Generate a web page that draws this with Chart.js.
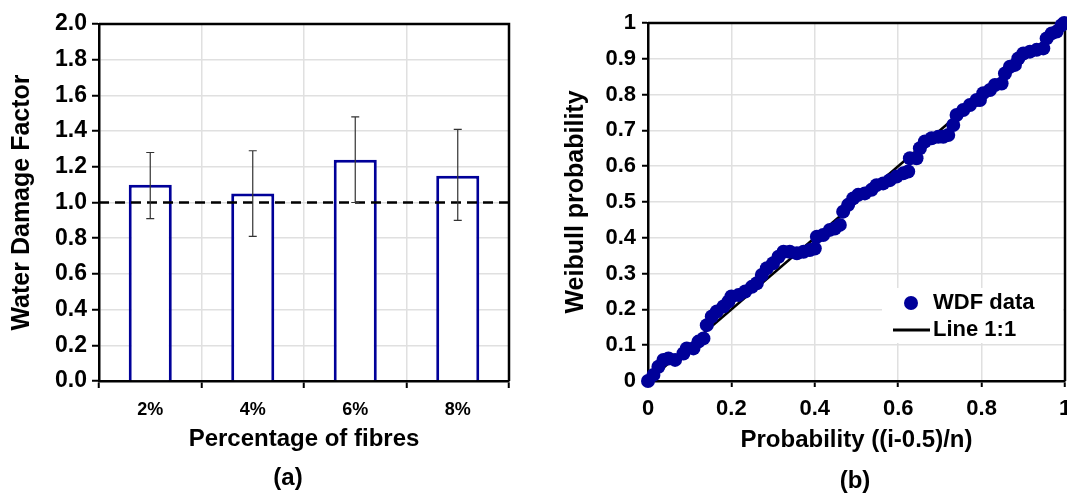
<!DOCTYPE html>
<html>
<head>
<meta charset="utf-8">
<title>Water Damage Factor</title>
<script src="https://cdn.jsdelivr.net/npm/chart.js@4.4.1/dist/chart.umd.min.js"></script>
<style>
  html, body { margin: 0; padding: 0; background: #fff; overflow: hidden; }
  body { width: 1067px; height: 494px; position: relative; }
  canvas { position: absolute; top: 0; }
  #wdf-bars { left: 0; }
  #wdf-weibull { left: 560px; }
  .caption {
    position: absolute;
    font: bold 24px 'Liberation Sans', Arial, sans-serif;
    transform: translate(-50%, -50%);
  }
</style>
</head>
<body>
<canvas id="wdf-bars" width="540" height="494"></canvas>
<canvas id="wdf-weibull" width="530" height="494"></canvas>
<div class="caption" style="left:288px; top:477px">(a)</div>
<div class="caption" style="left:855px; top:480px">(b)</div>

<script>
// (a) mean water damage factor per fibre content, with error bars
const fibreContents = ['2%', '4%', '6%', '8%'];
const wdfMean = [1.10, 1.05, 1.24, 1.15];
const wdfUpper = [1.28, 1.29, 1.48, 1.41];
const wdfLower = [0.91, 0.81, 1.00, 0.90];
const referenceLevel = 1.0;

// (b) Weibull probability against plotting position
const weibullX = [0.000, 0.013, 0.025, 0.037, 0.049, 0.065, 0.085, 0.093, 0.109, 0.121,
  0.133, 0.141, 0.153, 0.165, 0.181, 0.193, 0.200, 0.217, 0.233, 0.249,
  0.261, 0.273, 0.285, 0.300, 0.313, 0.325, 0.340, 0.357, 0.373, 0.388,
  0.400, 0.405, 0.420, 0.436, 0.448, 0.460, 0.468, 0.480, 0.492, 0.504,
  0.520, 0.536, 0.548, 0.564, 0.580, 0.596, 0.612, 0.624, 0.628, 0.644,
  0.652, 0.664, 0.680, 0.696, 0.708, 0.720, 0.732, 0.740, 0.756, 0.772,
  0.788, 0.796, 0.804, 0.820, 0.832, 0.848, 0.856, 0.868, 0.880, 0.888,
  0.900, 0.916, 0.932, 0.948, 0.956, 0.968, 0.980, 0.992, 0.998];
const weibullY = [0.000, 0.017, 0.040, 0.059, 0.063, 0.059, 0.077, 0.091, 0.091, 0.110,
  0.119, 0.156, 0.180, 0.194, 0.208, 0.222, 0.236, 0.240, 0.250, 0.263,
  0.273, 0.296, 0.315, 0.329, 0.347, 0.361, 0.361, 0.357, 0.361, 0.366,
  0.370, 0.403, 0.408, 0.422, 0.426, 0.436, 0.473, 0.492, 0.510, 0.520,
  0.524, 0.534, 0.547, 0.552, 0.561, 0.571, 0.580, 0.585, 0.622, 0.622,
  0.650, 0.669, 0.678, 0.682, 0.682, 0.687, 0.715, 0.743, 0.757, 0.771,
  0.785, 0.785, 0.804, 0.813, 0.827, 0.831, 0.859, 0.878, 0.883, 0.901,
  0.915, 0.920, 0.925, 0.929, 0.957, 0.971, 0.976, 0.994, 1.000];
const unityX = [0, 1];
const unityY = [0, 1];

Chart.defaults.font.family = "'Liberation Sans', Arial, sans-serif";
Chart.defaults.font.weight = 'bold';
Chart.defaults.color = '#000';
Chart.defaults.animation = false;

const gridColor = '#e0e0e0';
const navy = '#000099';

// 0, 0.1 ... 0.9, 1 (no trailing zeros)
const shortNum = v => String(Number(v.toFixed(1)));

// black box round the plot area (top and right sides, axes do the rest)
const frameBox = {
  id: 'frameBox',
  beforeDatasetsDraw(chart) {
    const { ctx, chartArea: a } = chart;
    ctx.save();
    ctx.strokeStyle = '#000';
    ctx.lineWidth = 2.5;
    ctx.beginPath();
    ctx.moveTo(a.left, a.top);
    ctx.lineTo(a.right, a.top);
    ctx.lineTo(a.right, a.bottom);
    ctx.stroke();
    ctx.restore();
  }
};

// dashed line at WDF = 1 and the error bars
const wdfExtras = {
  id: 'wdfExtras',
  afterDatasetsDraw(chart) {
    const { ctx, chartArea: a, scales: { x, y } } = chart;
    ctx.save();
    ctx.strokeStyle = '#000';
    ctx.lineWidth = 2.5;
    ctx.setLineDash([10, 6]);
    const yRef = y.getPixelForValue(referenceLevel);
    ctx.beginPath();
    ctx.moveTo(a.left, yRef);
    ctx.lineTo(a.right, yRef);
    ctx.stroke();

    ctx.setLineDash([]);
    ctx.strokeStyle = '#333';
    ctx.lineWidth = 1.2;
    fibreContents.forEach((c, i) => {
      const px = x.getPixelForValue(i);
      const top = y.getPixelForValue(wdfUpper[i]);
      const bot = y.getPixelForValue(wdfLower[i]);
      ctx.beginPath();
      ctx.moveTo(px, top); ctx.lineTo(px, bot);
      ctx.moveTo(px - 4, top); ctx.lineTo(px + 4, top);
      ctx.moveTo(px - 4, bot); ctx.lineTo(px + 4, bot);
      ctx.stroke();
    });
    ctx.restore();
  }
};

// legend box inside the plot area
const insideLegend = {
  id: 'insideLegend',
  afterDraw(chart) {
    const { ctx, chartArea: a } = chart;
    const pts = chart.data.datasets[0];
    const line = chart.data.datasets[1];
    const left = a.right - 183;
    const top = a.top + 265;
    ctx.save();
    ctx.fillStyle = '#fff';
    ctx.fillRect(left, top, 181, 55);

    ctx.fillStyle = pts.backgroundColor;
    ctx.beginPath();
    ctx.arc(left + 29, top + 15, 7, 0, Math.PI * 2);
    ctx.fill();

    ctx.strokeStyle = line.borderColor;
    ctx.lineWidth = 3;
    ctx.beginPath();
    ctx.moveTo(left + 11, top + 42);
    ctx.lineTo(left + 48, top + 42);
    ctx.stroke();

    ctx.fillStyle = '#000';
    ctx.font = "bold 22px 'Liberation Sans', Arial, sans-serif";
    ctx.textBaseline = 'middle';
    ctx.fillText(pts.label, left + 51, top + 15);
    ctx.fillText(line.label, left + 51, top + 42);
    ctx.restore();
  }
};

new Chart(document.getElementById('wdf-bars'), {
  type: 'bar',
  data: {
    labels: fibreContents,
    datasets: [{
      label: 'Water Damage Factor',
      data: wdfMean,
      backgroundColor: '#fff',
      borderColor: navy,
      borderWidth: 3,
      categoryPercentage: 1,
      barPercentage: 0.42
    }]
  },
  options: {
    responsive: false,
    layout: { padding: { top: 24, right: 31, left: 0, bottom: 36 } },
    plugins: { legend: { display: false }, tooltip: { enabled: false } },
    scales: {
      x: {
        offset: true,
        grid: { offset: true, color: gridColor, lineWidth: 1.5, tickColor: '#000', tickLength: 7, tickWidth: 2 },
        border: { color: '#000', width: 2.5 },
        ticks: { font: { size: 18 }, padding: 11 },
        title: { display: true, text: 'Percentage of fibres', font: { size: 24 }, padding: { top: 4, bottom: 4 } },
        afterFit(s) { s.height = 77; }
      },
      y: {
        min: 0,
        max: 2,
        grid: { color: gridColor, lineWidth: 1.5, tickColor: '#000', tickLength: 7, tickWidth: 2 },
        border: { color: '#000', width: 2.5 },
        ticks: { stepSize: 0.2, font: { size: 23 }, padding: 5, callback: v => v.toFixed(1) },
        title: { display: true, text: 'Water Damage Factor', font: { size: 25 }, padding: { top: 7, bottom: 4 } },
        afterFit(s) { s.width = 99; }
      }
    }
  },
  plugins: [frameBox, wdfExtras]
});

new Chart(document.getElementById('wdf-weibull'), {
  type: 'scatter',
  data: {
    datasets: [{
      label: 'WDF data',
      data: weibullX.map((x, i) => ({ x, y: weibullY[i] })),
      backgroundColor: navy,
      borderWidth: 0,
      pointRadius: 7,
      clip: false,
      order: 1
    }, {
      label: 'Line 1:1',
      data: unityX.map((x, i) => ({ x, y: unityY[i] })),
      showLine: true,
      borderColor: '#000',
      borderWidth: 2.5,
      pointRadius: 0,
      order: 2
    }]
  },
  options: {
    responsive: false,
    layout: { padding: { top: 23, right: 25, left: 0, bottom: 35 } },
    plugins: { legend: { display: false }, tooltip: { enabled: false } },
    scales: {
      x: {
        type: 'linear',
        min: 0,
        max: 1,
        grid: { color: gridColor, lineWidth: 1.5, tickColor: '#000', tickLength: 6, tickWidth: 2 },
        border: { color: '#000', width: 2.5 },
        ticks: { stepSize: 0.2, font: { size: 22 }, padding: 9, callback: shortNum },
        title: { display: true, text: 'Probability ((i-0.5)/n)', font: { size: 24 }, padding: { top: 4, bottom: 4 } },
        afterFit(s) { s.height = 78; }
      },
      y: {
        min: 0,
        max: 1,
        grid: { color: gridColor, lineWidth: 1.5, tickColor: '#000', tickLength: 6, tickWidth: 2 },
        border: { color: '#000', width: 2.5 },
        ticks: { stepSize: 0.1, font: { size: 22 }, padding: 6, callback: shortNum },
        title: { display: true, text: 'Weibull probability', font: { size: 25 }, padding: { top: 1, bottom: 4 } },
        afterFit(s) { s.width = 88; }
      }
    }
  },
  plugins: [frameBox, insideLegend]
});
</script>
</body>
</html>
